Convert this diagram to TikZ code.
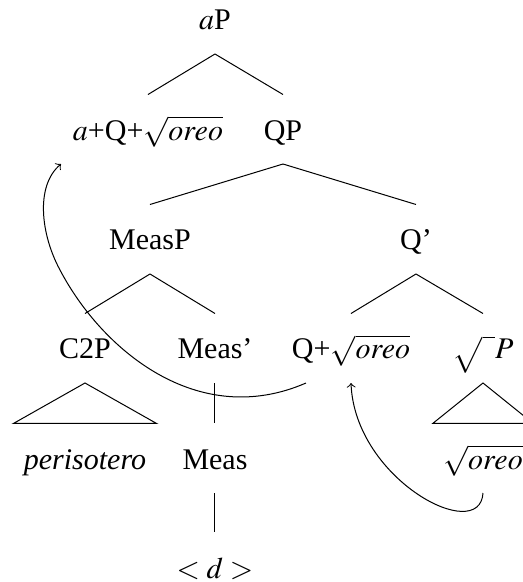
\documentclass[tikz,border=0pt]{standalone}
\usepackage{mathptmx}
\usepackage{fontspec}
\setmainfont{Liberation Serif}
\usetikzlibrary{calc}

\tikzset{
  lbl/.style={anchor=base, inner ysep=0pt, inner xsep=4pt,
    text height=18pt, text depth=9.4pt, font=\fontsize{12}{14}\selectfont},
}

\begin{document}
\begin{tikzpicture}[x=0.4pt, y=0.4pt]
  \useasboundingbox (0,0) rectangle (522,582);

  % labels, one row per level
  \node[lbl] (aP) at (215,552) {$a$P};
  \node[lbl] (aQ) at (148,442) {$a$+Q+$\sqrt{oreo}$};
  \node[lbl] (QP) at (283,442) {QP};
  \node[lbl] (MeasP) at (150,332) {MeasP};
  \node[lbl] (Qbar) at (416,332) {Q'};
  \node[lbl] (C2P) at (85,223) {C2P};
  \node[lbl] (Measbar) at (215,223) {Meas'};
  \node[lbl] (Qroot) at (351,223) {Q+$\sqrt{oreo}$};
  \node[lbl] (rootP) at (483,223) {$\sqrt{\rule[-5pt]{0pt}{12pt}\hspace{5pt}}P$};
  \node[lbl] (peri) at (85,113) {\textit{perisotero}};
  \node[lbl] (Meas) at (215,113) {Meas};
  \node[lbl] (oreo) at (483,113) {$\sqrt{oreo}$};
  \node[lbl] (d) at (215,4) {$<d>$};

  % branches
  \draw (aP.south) -- (aQ.north);
  \draw (aP.south) -- (QP.north);
  \draw (QP.south) -- (MeasP.north);
  \draw (QP.south) -- (Qbar.north);
  \draw (MeasP.south) -- (C2P.north);
  \draw (MeasP.south) -- (Measbar.north);
  \draw (Qbar.south) -- (Qroot.north);
  \draw (Qbar.south) -- (rootP.north);
  \draw (Measbar.south) -- (Meas.north);
  \draw (Meas.south) -- (d.north);

  % roofs
  \draw (C2P.south) -- (peri.north west) -- (peri.north east) -- cycle;
  \draw (rootP.south) -- (oreo.north west) -- (oreo.north east) -- cycle;

  % movement arrows
  \draw[->] ($(Qroot.south)+(-45,0)$) .. controls (198,152) and (102,232) .. (60,312)
    .. controls (41,347) and (35,396) .. ($(aQ.south)+(-87,0)$);
  \draw[->] (oreo.south) .. controls (480,37) and (355,102) .. (Qroot.south);
\end{tikzpicture}
\end{document}
